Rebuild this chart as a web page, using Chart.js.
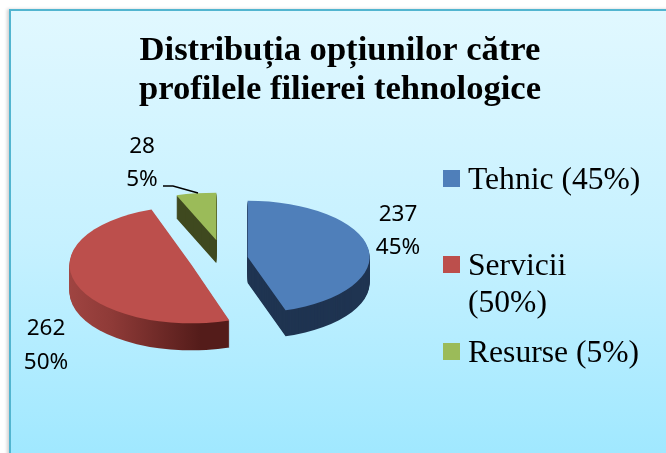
<!DOCTYPE html>
<html><head><meta charset="utf-8">
<style>
html,body{margin:0;padding:0;background:#fff;width:666px;height:453px;overflow:hidden}
#frame{position:absolute;left:9px;top:9px;width:720px;height:520px;box-sizing:border-box;border:2px solid #52B5D0;
background:linear-gradient(180deg,#E1F8FF 0%,#C6F1FF 45%,#A0E8FF 86%);box-shadow:-2px 0 3px rgba(0,0,0,.18)}
canvas{position:absolute;left:0;top:0}
</style>
<script src="https://cdn.jsdelivr.net/npm/chart.js@4/dist/chart.umd.min.js"></script>
</head><body>
<div id="frame"></div>
<canvas id="c" width="666" height="453"></canvas>
<script>
const titleLines = ['Distribuția opțiunilor către', 'profilele filierei tehnologice'];
const categories = ['Tehnic', 'Servicii', 'Resurse'];
const values = [237, 262, 28];
const percents = ['45%', '50%', '5%'];
const legendLines = [['Tehnic (45%)'], ['Servicii', '(50%)'], ['Resurse (5%)']];
const topColors = ['#4F7FBA', '#BC4F4C', '#9BBB59'];
const sideColors = ['#1F3451', null, '#3F491F'];

const PIE = {cx: 220, cy: 255, radius: 122, explode: 28, squash: [0.46, 0.48, 0.39], depth: [26, 27, 23],
  nudgeX: [0, -2, 1], nudgeY: [4, 5.5, -4]};

const pie3d = {
  id: 'pie3d',
  afterLayout(chart) {
    const a = chart.chartArea;
    a.left = PIE.cx - 200; a.right = PIE.cx + 200; a.width = 400;
    a.top = PIE.cy - 200; a.bottom = PIE.cy + 200; a.height = 400;
  },
  beforeDatasetDraw(chart) {
    const ctx = chart.ctx, arcs = chart.getDatasetMeta(0).data;
    const red = ctx.createLinearGradient(69, 0, 229, 0);
    red.addColorStop(0, '#AB4B48'); red.addColorStop(0.45, '#8E3A37'); red.addColorStop(1, '#541C1A');
    arcs.forEach((arc, i) => {
      const mid = (arc.startAngle + arc.endAngle) / 2;
      const place = (shift) => {
        ctx.translate(PIE.cx + PIE.nudgeX[i] + Math.cos(mid) * PIE.explode,
                      PIE.cy + PIE.nudgeY[i] + Math.sin(mid) * PIE.explode * PIE.squash[i] + shift);
        ctx.scale(1, PIE.squash[i]);
        ctx.translate(-arc.x, -arc.y);
      };
      const saved = arc.options;
      arc.options = {backgroundColor: sideColors[i] || red, borderColor: 'transparent', borderWidth: 0,
        offset: 0, spacing: 0, borderRadius: 0, circular: true, borderAlign: 'center',
        borderDash: [], borderDashOffset: 0, borderJoinStyle: 'round'};
      for (let k = PIE.depth[i]; k >= 1; k--) {
        ctx.save(); place(k); arc.draw(ctx); ctx.restore();
      }
      arc.options = saved;
      ctx.save(); place(0); arc.draw(ctx); ctx.restore();
    });
    return false;
  },
  afterDatasetsDraw(chart) {
    const ctx = chart.ctx;
    const anchors = [[178, -40, 33], [-174, 74, 34], [-78, -108, 33]];
    ctx.save();
    ctx.fillStyle = '#000'; ctx.font = '22.5px "Noto Sans"'; ctx.textAlign = 'center'; ctx.textBaseline = 'middle';
    values.forEach((v, i) => {
      const [dx, dy, gap] = anchors[i];
      ctx.fillText(String(v), PIE.cx + dx, PIE.cy + dy);
      ctx.fillText(percents[i], PIE.cx + dx, PIE.cy + dy + gap);
    });
    ctx.strokeStyle = '#000'; ctx.lineWidth = 1.5;
    ctx.beginPath(); ctx.moveTo(PIE.cx - 57, PIE.cy - 69); ctx.lineTo(PIE.cx - 47, PIE.cy - 69); ctx.lineTo(PIE.cx - 22, PIE.cy - 62); ctx.stroke();
    const boxes = [170, 256, 343];
    ctx.font = '31.6px "Liberation Serif"'; ctx.textAlign = 'left'; ctx.textBaseline = 'alphabetic';
    legendLines.forEach((lines, i) => {
      ctx.fillStyle = topColors[i];
      ctx.fillRect(443, boxes[i], 17, 17);
      ctx.fillStyle = '#000';
      lines.forEach((t, j) => ctx.fillText(t, 468, boxes[i] + 19 + j * 37));
    });
    ctx.restore();
  }
};

new Chart(document.getElementById('c'), {
  type: 'pie',
  data: {labels: categories, datasets: [{data: values, backgroundColor: topColors, borderWidth: 0, clip: false}]},
  options: {
    responsive: false, animation: false, radius: PIE.radius,
    layout: {padding: {left: 14}},
    plugins: {
      legend: {display: false}, tooltip: {enabled: false},
      title: {display: true, text: titleLines, color: '#000', padding: {top: 31, bottom: 0},
        font: {family: '"Liberation Serif"', weight: 'bold', size: 34.6, lineHeight: 1.14}}
    }
  },
  plugins: [pie3d]
});
</script>
</body></html>
